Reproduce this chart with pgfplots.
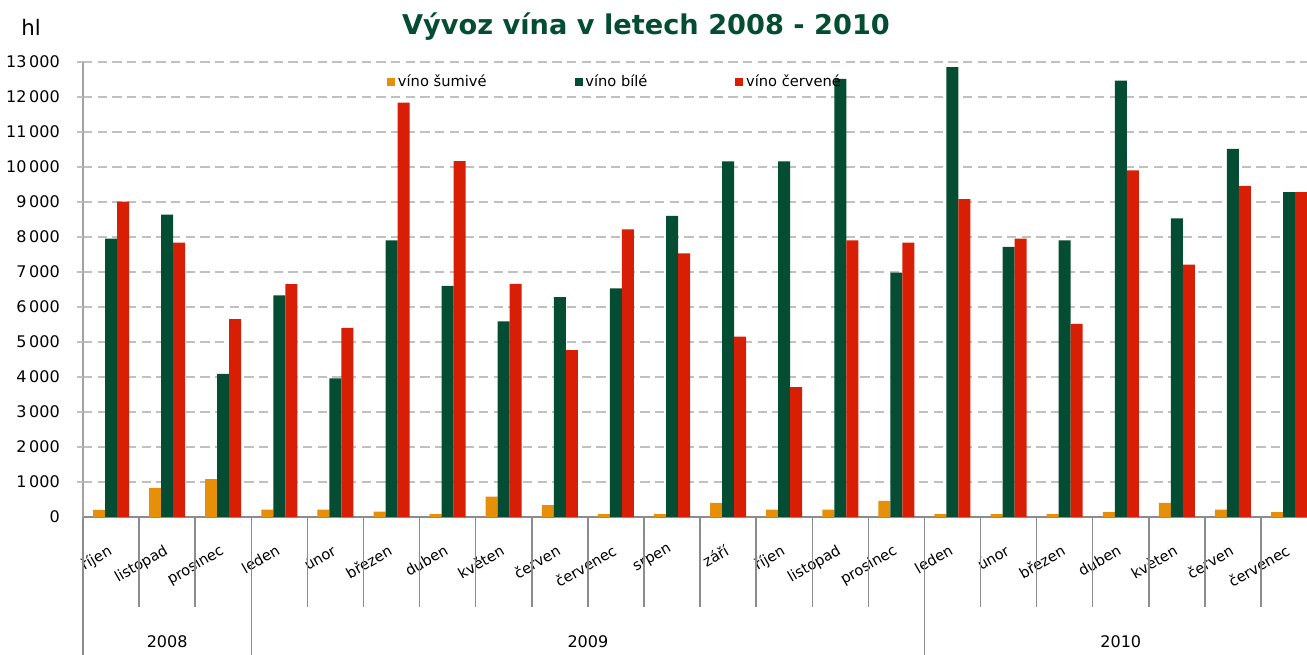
\documentclass[border=0pt]{standalone}
\usepackage{pgfplots}
\pgfplotsset{compat=1.18}
\usepackage{pgfplotstable}
\usepackage{fontspec}
\setmainfont{DejaVu Sans}
\definecolor{cOrange}{HTML}{E68F08}
\definecolor{cGreen}{HTML}{044C32}
\definecolor{cRed}{HTML}{D81F05}
\definecolor{cGrid}{HTML}{C0C0C0}
\definecolor{cAxis}{HTML}{8C8C8C}

\pgfplotstableread{
x sumive bile cervene
0  200   7950  9010
1  830   8640  7840
2  1080  4090  5650
3  210   6330  6650
4  210   3960  5400
5  150   7900  11840
6  80    6600  10170
7  580   5590  6660
8  340   6280  4770
9  80    6530  8220
10 80    8600  7530
11 400   10160 5150
12 210   10160 3710
13 210   12520 7900
14 460   6980  7840
15 80    12850 9080
16 80    7720  7950
17 80    7900  5520
18 140   12470 9900
19 400   8530  7210
20 210   10520 9460
21 140   9280  9280
}\datatable

\begin{document}
\begin{tikzpicture}
\useasboundingbox (0,0) rectangle (980.25pt,491.25pt);
\begin{axis}[
  at={(62.25pt,103.5pt)}, anchor=south west,
  scale only axis, width=918pt, height=341.25pt,
  xmin=-0.5, xmax=21.32, ymin=0, ymax=13000,
  enlargelimits=false, clip=false,
  axis x line*=bottom, axis y line*=left,
  x axis line style={cAxis, line width=1.5pt},
  y axis line style={cGrid!85!black, line width=1.5pt},
  major tick length=0pt,
  ybar=0pt, bar width=9pt,
  scaled y ticks=false,
  xtick={0,...,21},
  xticklabels={říjen,listopad,prosinec,leden,únor,březen,duben,květen,červen,červenec,srpen,září,říjen,listopad,prosinec,leden,únor,březen,duben,květen,červen,červenec},
  xticklabel style={yshift=-20pt, xshift=-3pt, rotate=30, anchor=north east, inner sep=0pt, font=\fontsize{11}{13}\selectfont},
  ytick={0,1000,...,13000},
  yticklabels={0,1\,000,2\,000,3\,000,4\,000,5\,000,6\,000,7\,000,8\,000,9\,000,10\,000,11\,000,12\,000,13\,000},
  yticklabel style={anchor=east, inner sep=0pt, xshift=-17.25pt, font=\fontsize{12}{14}\selectfont},
  ymajorgrids,
  major grid style={cGrid, line width=1.6pt, dash pattern=on 7pt off 4pt},
  legend columns=3,
  legend style={at={(axis description cs:0.2484,0.956)}, anchor=west, draw=none, fill=none,
    inner sep=0pt, font=\fontsize{11}{13}\selectfont,
    /tikz/every even column/.append style={column sep=64pt}},
  legend image code/.code={\fill[#1] (0pt,-3pt) rectangle (6pt,3pt);},
]
\addplot[fill=cOrange, draw=none] table[x=x, y=sumive] {\datatable};
\addplot[fill=cGreen, draw=none] table[x=x, y=bile] {\datatable};
\addplot[fill=cRed, draw=none] table[x=x, y=cervene] {\datatable};
\legend{víno šumivé, víno bílé, víno červené}
\pgfplotsinvokeforeach{1000,2000,...,13000}{
  \draw[cGrid, line width=1.6pt] (axis cs:-0.5,#1) -- ++(-4.5pt,0pt);
}
\pgfplotsinvokeforeach{0.5,1.5,3.5,4.5,5.5,6.5,7.5,8.5,9.5,10.5,11.5,12.5,13.5,15.5,16.5,17.5,18.5,19.5,20.5}{
  \draw[cAxis, line width=1.1pt] (axis cs:#1,0) -- ++(0pt,-67.5pt);
}
\pgfplotsinvokeforeach{-0.5,2.5,14.5}{
  \draw[cAxis, line width=1.1pt] (axis cs:#1,0) -- ++(0pt,-104pt);
}
\node[font=\fontsize{12}{14}\selectfont] at (axis cs:1,0) [yshift=-93.4pt] {2008};
\node[font=\fontsize{12}{14}\selectfont] at (axis cs:8.5,0) [yshift=-93.4pt] {2009};
\node[font=\fontsize{12}{14}\selectfont] at (axis cs:18,0) [yshift=-93.4pt] {2010};
\end{axis}
\node[font=\fontsize{20.4}{24}\selectfont\bfseries, text=cGreen, anchor=base] at (484.5pt,465pt) {Vývoz vína v letech 2008 - 2010};
\node[anchor=base west, inner sep=0pt, font=\fontsize{16}{19}\selectfont] at (15.75pt,464.25pt) {hl};
\end{tikzpicture}
\end{document}
